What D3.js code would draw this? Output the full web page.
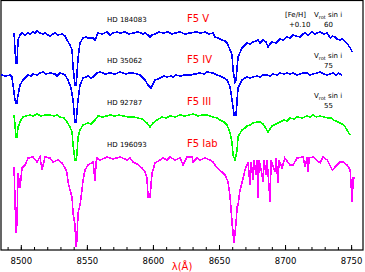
<!DOCTYPE html>
<html>
<head>
<meta charset="utf-8">
<script src="https://cdn.jsdelivr.net/npm/d3@7"></script>
<style>
body { margin:0; background:#fff; }
svg { display:block; }
</style>
</head>
<body>
<div id="Container"></div>
<script>
// spectra: [wavelength (A), normalised flux]
var specV = [[8494.9,0.97],[8495.6,0.80],[8496.4,0.67],[8497.1,0.67],[8497.9,0.90],[8499.4,0.95],[8500.9,0.97],[8503.2,0.95],[8505.5,0.97],[8507.0,0.96],[8509.2,0.98],[8510.7,0.97],[8512.3,0.99],[8514.5,0.97],[8516.8,0.96],[8518.3,0.97],[8520.6,0.95],[8522.1,0.94],[8524.4,0.96],[8525.9,0.97],[8528.2,0.95],[8531.2,0.96],[8533.5,0.94],[8535.0,0.90],[8537.2,0.85],[8538.8,0.80],[8539.5,0.63],[8541.0,0.45],[8541.8,0.45],[8542.5,0.55],[8543.3,0.72],[8544.8,0.87],[8547.1,0.92],[8549.4,0.93],[8550.9,0.92],[8554.7,0.92],[8556.2,0.90],[8558.4,0.97],[8561.5,0.96],[8565.3,0.98],[8567.5,0.95],[8569.8,0.97],[8572.8,0.98],[8575.1,0.97],[8578.9,0.98],[8582.0,0.96],[8585.0,0.97],[8588.8,0.98],[8592.6,0.96],[8594.0,0.97],[8596.3,0.95],[8597.8,0.93],[8599.3,0.95],[8601.6,0.96],[8604.6,0.98],[8607.7,0.97],[8611.5,0.98],[8614.5,0.96],[8616.8,0.97],[8620.5,0.98],[8624.3,0.96],[8628.1,0.97],[8632.7,0.98],[8636.4,0.97],[8639.5,0.98],[8642.5,0.96],[8645.5,0.97],[8647.0,0.93],[8649.3,0.92],[8652.3,0.90],[8654.6,0.89],[8656.1,0.87],[8658.4,0.80],[8659.9,0.75],[8660.6,0.60],[8662.1,0.48],[8662.9,0.50],[8664.4,0.73],[8667.4,0.82],[8669.7,0.85],[8671.2,0.87],[8673.5,0.86],[8675.8,0.88],[8678.0,0.89],[8679.6,0.90],[8681.1,0.87],[8683.4,0.90],[8685.6,0.88],[8687.1,0.83],[8688.7,0.86],[8690.2,0.88],[8693.2,0.87],[8696.2,0.91],[8698.5,0.90],[8701.5,0.93],[8703.8,0.92],[8706.1,0.95],[8708.4,0.94],[8711.4,0.93],[8713.7,0.96],[8715.2,0.97],[8717.5,0.95],[8720.5,0.98],[8722.8,0.96],[8724.3,0.97],[8726.6,0.98],[8729.6,0.96],[8731.9,0.97],[8734.2,0.92],[8735.7,0.94],[8737.9,0.93],[8739.4,0.91],[8741.7,0.90],[8743.3,0.91],[8745.5,0.88],[8747.8,0.85],[8749.3,0.82],[8750.8,0.78]];
var specIV = [[8485.0,0.95],[8488.8,0.94],[8491.8,0.95],[8493.3,0.93],[8494.1,0.85],[8495.6,0.70],[8496.4,0.67],[8497.1,0.67],[8497.9,0.75],[8499.4,0.85],[8501.7,0.90],[8503.2,0.92],[8505.5,0.95],[8507.8,0.94],[8509.2,0.96],[8512.3,0.95],[8514.5,0.97],[8516.8,0.98],[8519.1,0.96],[8522.1,0.97],[8525.9,0.96],[8527.4,0.94],[8529.7,0.97],[8531.9,0.96],[8533.5,0.95],[8535.7,0.90],[8538.0,0.82],[8539.5,0.70],[8541.0,0.48],[8541.8,0.48],[8543.3,0.70],[8544.8,0.85],[8547.1,0.92],[8549.4,0.93],[8550.9,0.94],[8553.2,0.92],[8554.7,0.93],[8557.7,0.97],[8560.0,0.98],[8563.8,0.96],[8567.5,0.97],[8571.3,0.96],[8575.1,0.98],[8579.7,0.96],[8582.0,0.97],[8585.0,0.97],[8588.0,0.96],[8590.2,0.95],[8594.0,0.90],[8596.3,0.85],[8598.6,0.82],[8601.6,0.90],[8603.9,0.91],[8605.4,0.92],[8608.5,0.94],[8610.7,0.93],[8613.7,0.94],[8615.3,0.93],[8617.6,0.95],[8620.5,0.94],[8624.3,0.95],[8628.1,0.95],[8631.9,0.96],[8635.7,0.97],[8638.7,0.96],[8641.0,0.98],[8645.5,0.97],[8648.6,0.95],[8650.8,0.94],[8653.8,0.92],[8656.1,0.90],[8658.4,0.83],[8659.9,0.70],[8661.4,0.55],[8662.9,0.55],[8664.4,0.82],[8667.4,0.90],[8669.7,0.92],[8671.2,0.93],[8673.5,0.92],[8675.8,0.93],[8678.8,0.94],[8681.1,0.93],[8683.4,0.95],[8686.4,0.95],[8688.7,0.94],[8690.9,0.96],[8693.9,0.95],[8696.2,0.97],[8699.2,0.96],[8701.5,0.97],[8703.8,0.96],[8706.1,0.97],[8709.1,0.95],[8711.4,0.96],[8713.7,0.97],[8716.7,0.97],[8719.0,0.95],[8721.3,0.96],[8724.3,0.97],[8726.6,0.98],[8729.6,0.96],[8731.9,0.95],[8734.2,0.96],[8736.4,0.97],[8738.7,0.95],[8740.2,0.97],[8743.3,0.95]];
var specIII = [[8494.9,1.00],[8495.6,0.90],[8496.4,0.78],[8497.1,0.78],[8497.9,0.88],[8500.1,0.95],[8501.7,0.98],[8504.0,0.99],[8507.0,1.00],[8509.2,0.99],[8512.3,1.01],[8515.3,0.99],[8518.3,1.00],[8522.1,1.00],[8525.1,0.99],[8527.4,1.00],[8529.7,0.98],[8532.7,0.97],[8535.0,0.93],[8537.2,0.88],[8538.8,0.83],[8539.5,0.70],[8541.0,0.55],[8541.8,0.55],[8542.5,0.60],[8543.3,0.78],[8544.8,0.85],[8547.1,0.90],[8550.9,0.92],[8553.2,0.91],[8554.7,0.93],[8556.2,0.95],[8558.4,0.99],[8562.2,0.98],[8567.5,1.00],[8571.3,0.99],[8574.4,1.00],[8577.4,0.99],[8581.2,0.98],[8585.0,0.98],[8588.8,0.97],[8591.7,0.96],[8595.5,0.92],[8597.8,0.88],[8600.1,0.92],[8603.1,0.95],[8606.9,0.98],[8610.0,0.97],[8613.0,0.99],[8616.8,0.98],[8620.5,1.00],[8624.3,0.99],[8627.3,1.00],[8630.4,1.01],[8634.2,0.99],[8637.2,1.00],[8641.0,1.00],[8645.5,0.98],[8648.6,0.97],[8650.8,0.95],[8653.8,0.93],[8656.1,0.90],[8658.4,0.82],[8659.9,0.72],[8660.6,0.60],[8662.1,0.55],[8663.7,0.65],[8664.4,0.78],[8667.4,0.85],[8669.7,0.87],[8671.2,0.89],[8673.5,0.90],[8675.8,0.92],[8678.8,0.93],[8681.1,0.93],[8683.4,0.91],[8684.9,0.88],[8687.1,0.83],[8688.7,0.86],[8690.2,0.89],[8693.2,0.91],[8696.2,0.93],[8699.2,0.95],[8701.5,0.94],[8703.8,0.97],[8706.8,0.96],[8709.1,0.98],[8712.9,0.97],[8716.7,0.99],[8719.0,0.98],[8721.3,1.00],[8723.6,0.98],[8726.6,0.99],[8729.6,0.98],[8732.6,0.97],[8734.9,0.97],[8736.4,0.95],[8738.7,0.94],[8741.7,0.92],[8743.3,0.91],[8745.5,0.88],[8747.8,0.83],[8749.3,0.80]];
var specIab = [[8494.9,0.83],[8495.6,0.50],[8496.4,0.17],[8497.1,0.27],[8497.9,0.77],[8499.4,0.62],[8500.9,0.82],[8503.2,0.85],[8505.5,0.92],[8509.2,0.93],[8512.3,0.88],[8514.5,0.93],[8516.1,0.80],[8518.3,0.93],[8522.1,0.92],[8524.4,0.88],[8528.2,0.90],[8531.2,0.87],[8533.5,0.82],[8535.0,0.77],[8535.7,0.68],[8537.2,0.60],[8538.8,0.53],[8539.5,0.37],[8541.0,0.25],[8541.8,0.03],[8542.5,0.10],[8543.3,0.37],[8544.8,0.45],[8546.3,0.60],[8547.1,0.70],[8548.6,0.80],[8550.9,0.85],[8554.7,0.88],[8556.2,0.69],[8557.0,0.88],[8557.7,0.92],[8560.0,0.90],[8565.3,0.93],[8569.8,0.91],[8575.1,0.93],[8580.4,0.90],[8582.7,0.92],[8585.0,0.88],[8588.0,0.86],[8591.7,0.82],[8594.0,0.78],[8595.5,0.72],[8596.3,0.53],[8597.8,0.53],[8599.3,0.77],[8601.6,0.87],[8605.4,0.90],[8607.7,0.92],[8610.7,0.90],[8613.0,0.93],[8616.8,0.90],[8620.5,0.92],[8622.8,0.85],[8625.8,0.93],[8629.6,0.93],[8630.4,0.88],[8633.4,0.92],[8635.7,0.90],[8639.5,0.92],[8643.2,0.90],[8645.5,0.88],[8648.6,0.82],[8652.3,0.78],[8654.6,0.75],[8656.9,0.68],[8658.4,0.53],[8659.9,0.27],[8661.4,0.07],[8662.9,0.27],[8663.7,0.43],[8664.4,0.45],[8665.9,0.60],[8667.4,0.67],[8669.7,0.80],[8672.0,0.88],[8673.5,0.65],[8674.3,0.88],[8675.8,0.70],[8676.5,0.90],[8678.0,0.75],[8678.8,0.90],[8679.6,0.52],[8680.3,0.90],[8682.6,0.75],[8683.4,0.68],[8684.1,0.90],[8685.6,0.75],[8686.4,0.90],[8688.7,0.48],[8689.4,0.90],[8692.4,0.78],[8693.2,0.92],[8694.7,0.67],[8695.5,0.90],[8697.7,0.82],[8699.8,0.92],[8703.8,0.85],[8706.1,0.85],[8709.1,0.92],[8713.7,0.93],[8715.2,0.83],[8716.7,0.93],[8717.5,0.78],[8718.2,0.92],[8721.3,0.93],[8726.6,0.87],[8728.8,0.93],[8731.9,0.90],[8735.7,0.80],[8737.9,0.83],[8741.7,0.88],[8744.0,0.88],[8747.0,0.85],[8749.3,0.80],[8750.8,0.48],[8751.6,0.72],[8753.1,0.72]];

var shifts = [1.2, 0.8, 0.35, 0.0];
var colours = ["#0000ff", "#0000ff", "#00ff00", "#ff00ff"];
var classes = ["F5 V", "F5 IV", "F5 III", "F5 Iab"];
var stars = ["HD 184083", "HD 35062", "HD 92787", "HD 196093"];
var vsini = ["60", "75", "55", ""];
var feh = "+0.10";
var xTicks = [8500, 8550, 8600, 8650, 8700, 8750];

var W = 365, H = 272;
var canvas = d3.select("#Container").append("svg")
    .attr("width", W)
    .attr("height", H);

var x = d3.scaleLinear().domain([8485, 8759]).range([1, 363]);
var y = d3.scaleLinear().domain([0, 2.5]).range([250, 0]);

// frame
canvas.append("rect")
    .attr("x", 1).attr("y", 0.5)
    .attr("width", 362).attr("height", 249.5)
    .attr("fill", "none")
    .attr("stroke", "black")
    .attr("stroke-width", 1.2);

// minor ticks, inside
var axis = canvas.append("g")
    .attr("transform", "translate(0,250)")
    .call(d3.axisBottom(x).tickValues(d3.range(8490, 8760, 10)).tickSize(-3).tickFormat(""));
axis.select(".domain").remove();
axis.selectAll("line").attr("stroke", "black").attr("stroke-width", 1);

var major = canvas.append("g")
    .attr("transform", "translate(0,250)")
    .call(d3.axisBottom(x).tickValues(xTicks).tickSize(-5).tickFormat(d3.format("d")));
major.select(".domain").remove();
major.selectAll("line").attr("stroke", "black").attr("stroke-width", 1);
major.selectAll("text")
    .attr("y", 8)
    .attr("font-family", "DejaVu Sans")
    .attr("font-size", 8.5)
    .attr("fill", "black");

canvas.append("text")
    .text("\u03bb(\u00c5)")
    .attr("x", 182)
    .attr("y", 270)
    .attr("text-anchor", "middle")
    .attr("font-family", "DejaVu Sans")
    .attr("font-size", 10)
    .attr("fill", "red");

var line = d3.line()
    .x(function(d) { return x(d[0]); })
    .y(function(d) { return y(d[1]); });

[specV, specIV, specIII, specIab].forEach(function(s, i) {
    canvas.append("path")
        .datum(s.map(function(d) { return [d[0], d[1] + shifts[i]]; }))
        .attr("d", line)
        .attr("fill", "none")
        .attr("stroke", colours[i])
        .attr("stroke-width", 1.6)
        .attr("shape-rendering", "crispEdges");
});

// labels
var labY = [22, 63, 105, 147];
stars.forEach(function(s, i) {
    canvas.append("text")
        .text(s)
        .attr("x", 107).attr("y", labY[i])
        .attr("font-family", "DejaVu Sans")
        .attr("font-size", 7)
        .attr("fill", "black");
    canvas.append("text")
        .text(classes[i])
        .attr("x", 187).attr("y", labY[i])
        .attr("font-family", "DejaVu Sans")
        .attr("font-size", 10)
        .attr("fill", "red");
});

canvas.append("text").text("[Fe/H]")
    .attr("x", 285).attr("y", 17)
    .attr("font-family", "DejaVu Sans").attr("font-size", 7);
canvas.append("text").text(feh)
    .attr("x", 289).attr("y", 27)
    .attr("font-family", "DejaVu Sans").attr("font-size", 7);

var vY = [17, 58, 98];
vY.forEach(function(yy, i) {
    var t = canvas.append("text")
        .attr("x", 314).attr("y", yy)
        .attr("font-family", "DejaVu Sans").attr("font-size", 7);
    t.append("tspan").text("V");
    t.append("tspan").text("rot").attr("font-size", 5).attr("dy", 2);
    t.append("tspan").text(" sin i").attr("dy", -2);
    canvas.append("text").text(vsini[i])
        .attr("x", 324).attr("y", yy + 10)
        .attr("font-family", "DejaVu Sans").attr("font-size", 7);
});
</script>
</body>
</html>
